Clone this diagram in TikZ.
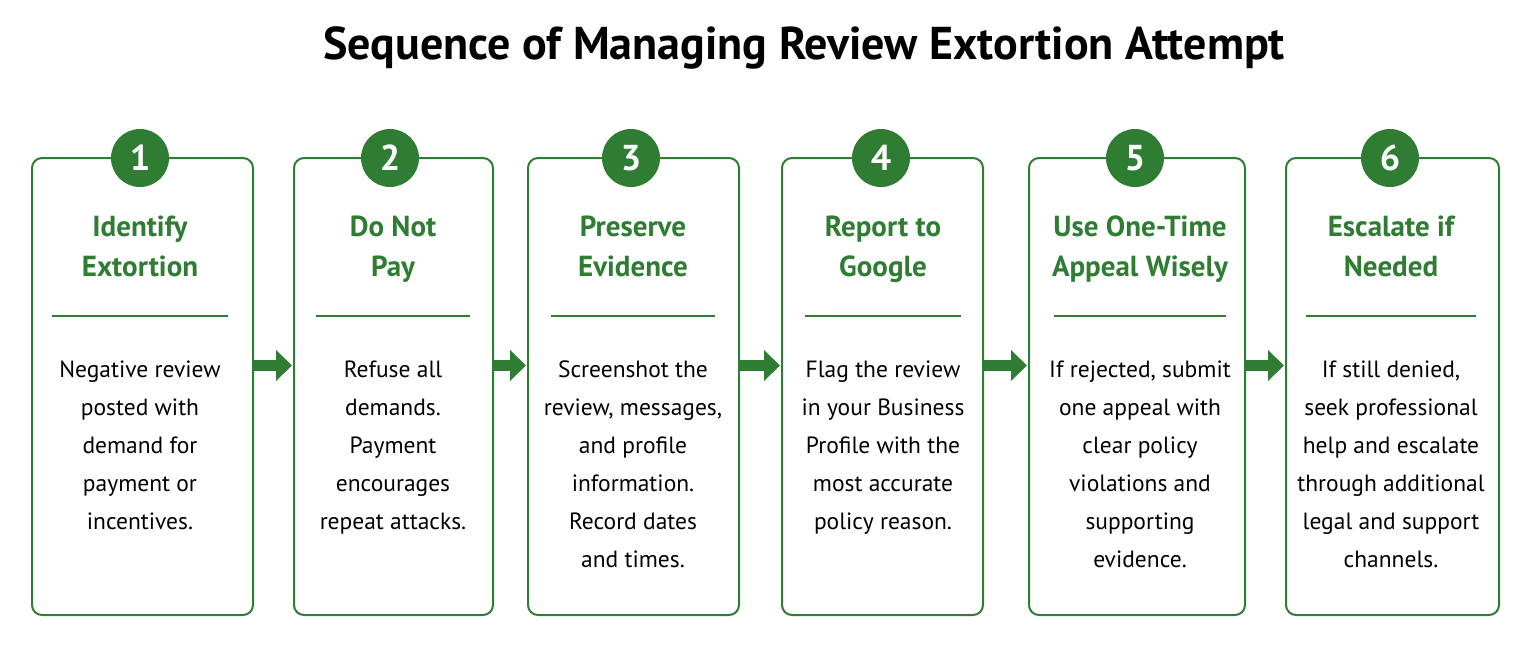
\documentclass[tikz,border=0pt]{standalone}
\usepackage{fontspec}
\setmainfont{PT Sans}
\usetikzlibrary{positioning}
\usetikzlibrary{arrows.meta}
\usepackage{xcolor}
\definecolor{stepgreen}{HTML}{2E7D32}

\begin{document}
\begin{tikzpicture}[x=1pt,y=-1pt,
    stepbox/.style={draw=stepgreen, line width=2pt, rounded corners=10pt, fill=white, minimum height=457pt},
    num/.style={circle, fill=stepgreen, text=white, minimum size=58pt, font=\bfseries\fontsize{36}{36}\selectfont},
    head/.style={text=stepgreen, align=center, anchor=north, font=\bfseries\fontsize{29}{40}\selectfont},
    body/.style={align=center, anchor=north, font=\fontsize{23.5}{38}\selectfont},
    flow/.style={-{Triangle[length=16pt,width=30pt]}, line width=11pt, stepgreen, shorten >=1pt}]
    \useasboundingbox (0,0) rectangle (1531,651);
    % title
    \node[font=\bfseries\fontsize{46}{48}\selectfont] (title) at (804,48) {Sequence of Managing Review Extortion Attempt};

    % step boxes
    \node[stepbox, minimum width=221pt] (b1) at (142.5,386.5) {};
    \node[stepbox, minimum width=199pt] (b2) at (393.5,386.5) {};
    \node[stepbox, minimum width=211pt] (b3) at (633.5,386.5) {};
    \node[stepbox, minimum width=201pt] (b4) at (882.5,386.5) {};
    \node[stepbox, minimum width=216pt] (b5) at (1137,386.5) {};
    \node[stepbox, minimum width=213pt] (b6) at (1392.5,386.5) {};

    % numbers
    \node[num] (n1) at (140,158) {1};
    \node[num] (n2) at (390,158) {2};
    \node[num] (n3) at (631,158) {3};
    \node[num] (n4) at (881,158) {4};
    \node[num] (n5) at (1135,158) {5};
    \node[num] (n6) at (1390,158) {6};

    % headings
    \node[head] (h1) at (140,212) {Identify\\Extortion};
    \node[head] (h2) at (393,212) {Do Not\\Pay};
    \node[head] (h3) at (633,212) {Preserve\\Evidence};
    \node[head] (h4) at (883,212) {Report to\\Google};
    \node[head] (h5) at (1140,212) {Use One-Time\\Appeal Wisely};
    \node[head] (h6) at (1391,212) {Escalate if\\Needed};

    % dividers
    \foreach \i/\w in {1/88, 2/77, 3/82, 4/78, 5/86, 6/85}
        \draw[stepgreen, line width=2pt] ([xshift=-\w pt]h\i.center |- 0,316) -- ([xshift=\w pt]h\i.center |- 0,316);

    % texts
    \node[body] (t1) at (140,357) {Negative review\\posted with\\demand for\\payment or\\incentives.};
    \node[body] (t2) at (393,357) {Refuse all\\demands.\\Payment\\encourages\\repeat attacks.};
    \node[body] (t3) at (633,357) {Screenshot the\\review, messages,\\and profile\\information.\\Record dates\\and times.};
    \node[body] (t4) at (883,357) {Flag the review\\in your Business\\Profile with the\\most accurate\\policy reason.};
    \node[body] (t5) at (1140,357) {If rejected, submit\\one appeal with\\clear policy\\violations and\\supporting\\evidence.};
    \node[body] (t6) at (1391,357) {If still denied,\\seek professional\\help and escalate\\through additional\\legal and support\\channels.};

    % arrows
    \foreach \a/\b in {1/2, 2/3, 3/4, 4/5, 5/6}
        \draw[flow] ([yshift=21pt]b\a.east) -- ([yshift=21pt]b\b.west);
\end{tikzpicture}
\end{document}
